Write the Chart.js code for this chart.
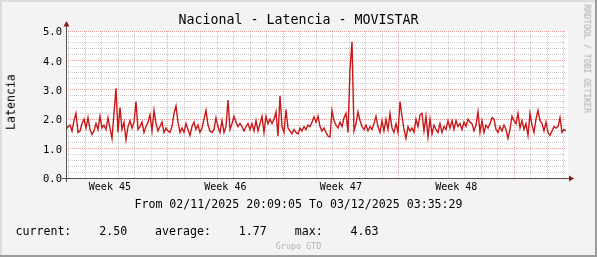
<!DOCTYPE html>
<html>
<head>
<meta charset="utf-8">
<script src="https://cdn.jsdelivr.net/npm/chart.js@4.4.1/dist/chart.umd.min.js"></script>
<style>
  body { margin: 0; background: #fff; }
  #wrap { position: relative; width: 597px; height: 257px; overflow: hidden; font-family: "DejaVu Sans Mono", monospace; }
  canvas { position: absolute; left: 0; top: 0; }
  .t { position: absolute; white-space: pre; line-height: 1; color: #000; }
</style>
</head>
<body>
<div id="wrap">
  <canvas id="grafico" width="597" height="257"></canvas>
  <div class="t" id="titulo" style="left:0;width:597px;text-align:center;top:12.7px;font-size:13.3px"></div>
  <div class="t" id="ylabel" style="left:0;top:0;font-size:11.6px;transform-origin:0 0;transform:translate(5.7px,130px) rotate(-90deg)"></div>
  <div class="t" id="rango" style="left:0;width:597px;text-align:center;top:198.7px;font-size:11.6px"></div>
  <div class="t" id="leyenda" style="left:15.5px;top:226.2px;font-size:11.6px"></div>
  <div class="t" id="marca" style="left:0;width:597px;text-align:center;top:242.3px;font-size:8.4px;color:#b4b4b4"></div>
  <div class="t" id="rrd" style="left:0;top:0;font-size:8.2px;color:#aaa;transform-origin:0 0;transform:translate(591.2px,4.5px) rotate(90deg)"></div>
</div>
<script>
// textos
const TITULO = "Nacional - Latencia - MOVISTAR";
const EJE_Y = "Latencia";
const DESDE = "02/11/2025 20:09:05";
const HASTA = "03/12/2025 03:35:29";
const ACTUAL = "2.50", PROMEDIO = "1.77", MAXIMO = "4.63";

// tiempo, en horas desde el inicio
const SPAN_H = 727.44;
const PRIMERA_MEDIANOCHE_H = 3.8486; // 03/11 00:00
const SEMANAS = ["Week 45", "Week 46", "Week 47", "Week 48"];

// latencia, un valor cada ~2.9 h
const latencia = [
  1.65, 1.75, 1.8, 1.6, 1.95, 2.2, 1.55, 1.6, 1.85, 2.0, 1.7, 2.05, 1.65, 1.48, 1.6, 1.85, 1.65, 2.1, 1.7, 1.8,
  1.65, 2.05, 1.7, 1.35, 2.2, 3.05, 1.55, 2.4, 1.65, 1.9, 1.3, 1.75, 1.95, 1.7, 1.9, 2.6, 1.65, 1.75, 1.9, 1.55,
  1.75, 1.9, 2.15, 1.6, 2.3, 1.85, 1.6, 1.75, 1.9, 1.55, 1.7, 1.6,
  1.55, 1.75, 2.2, 2.45, 1.9, 1.55, 1.7, 1.55, 1.85, 1.65, 1.45, 1.75, 1.9, 1.65, 1.8, 1.55, 1.7, 2.0, 2.3, 1.8,
  1.6, 1.55, 1.65, 2.05, 1.75, 1.55, 1.95, 1.55, 1.75, 2.65, 1.65, 1.85, 2.1, 1.9, 1.75, 1.85, 1.75, 1.6, 1.75, 1.85,
  1.65, 1.85, 1.6, 1.95, 1.6, 1.85, 2.1, 1.55, 2.1, 1.85,
  2.0, 1.85, 2.0, 2.25, 1.42, 2.8, 1.75, 1.55, 2.33, 1.7, 1.6, 1.5, 1.65, 1.55, 1.5, 1.7, 1.6, 1.75, 1.65, 1.8,
  1.75, 1.9, 2.08, 1.9, 2.1, 1.75, 1.6, 1.7, 1.55, 1.42, 1.4, 2.3, 1.95, 1.8, 1.7, 1.9, 1.75, 2.05, 2.2, 1.55,
  3.7, 4.63, 1.6, 1.85, 2.25, 1.95, 1.75, 1.65, 1.8, 1.6,
  1.75, 1.65, 1.85, 2.1, 1.75, 1.55, 1.95, 1.6, 2.0, 1.65, 2.2, 1.7, 1.55, 1.85, 1.55, 2.6, 2.1, 1.65, 1.35, 1.75,
  1.6, 1.7, 1.55, 2.0, 1.75, 2.15, 2.2, 1.6, 2.1, 1.4, 2.0, 1.5, 1.8, 1.65, 1.55, 1.85, 1.55, 1.75, 1.65, 1.95,
  1.7, 1.95, 1.65, 1.95, 1.75, 1.85, 1.65, 1.9, 1.75, 2.0,
  1.9, 1.85, 1.6, 1.8, 2.25, 1.55, 1.95, 1.55, 1.8, 1.7, 1.85, 2.05, 2.0, 1.65, 1.55, 1.75, 1.6, 1.8, 1.65, 1.35,
  1.65, 2.1, 1.95, 1.85, 2.2, 1.7, 1.95, 1.65, 1.85, 1.45, 2.2, 1.8, 1.55, 2.0, 2.3, 1.95, 1.85, 1.6, 1.9, 1.55,
  1.45, 1.6, 1.75, 1.7, 1.75, 2.05, 1.55, 1.65, 1.6
];

document.getElementById("titulo").textContent = TITULO;
document.getElementById("ylabel").textContent = EJE_Y;
document.getElementById("rango").textContent = "From " + DESDE + " To " + HASTA;
document.getElementById("leyenda").textContent =
  "current:    " + ACTUAL + "    average:    " + PROMEDIO + "    max:    " + MAXIMO;
document.getElementById("marca").textContent = "Grupo GTD";
document.getElementById("rrd").textContent = "RRDTOOL / TOBI OETIKER";

const paso = SPAN_H / (latencia.length - 1);
const puntos = latencia.map((v, i) => ({ x: i * paso, y: v }));

// lineas de dia, domingos en rojo
const dias = [];
for (let h = PRIMERA_MEDIANOCHE_H; h < SPAN_H; h += 24) dias.push(h);
const esDomingo = (h) => Math.round((h - PRIMERA_MEDIANOCHE_H) / 24) % 7 === 6;
const posSemanas = SEMANAS.map((_, j) => PRIMERA_MEDIANOCHE_H + 60 + 168 * j);
const cerca = (a, b) => Math.abs(a - b) < 1e-6;

const ROJO_GRID = "rgba(232,130,130,0.75)";
const GRIS_GRID = "rgba(180,180,180,0.7)";

const fondo = {
  id: "fondo",
  beforeDraw(chart) {
    const { ctx, chartArea: a } = chart;
    ctx.save();
    ctx.fillStyle = "#f3f3f3";
    ctx.fillRect(0, 0, 597, 257);
    ctx.fillStyle = "#dcdcdc";
    ctx.fillRect(0, 0, 597, 2);
    ctx.fillRect(0, 0, 2, 257);
    ctx.fillStyle = "#9c9c9c";
    ctx.fillRect(0, 255, 597, 2);
    ctx.fillRect(595, 0, 2, 257);
    ctx.fillStyle = "#fff";
    ctx.fillRect(a.left, a.top, a.right - a.left + 2, a.bottom - a.top + 1);
    ctx.restore();
  },
  afterDatasetsDraw(chart) {
    const { ctx, chartArea: a } = chart;
    const x0 = a.left + 0.5, y0 = a.bottom + 0.5;
    ctx.save();
    ctx.strokeStyle = "#5a5050";
    ctx.lineWidth = 1;
    ctx.beginPath();
    ctx.moveTo(a.left - 4, y0);
    ctx.lineTo(a.right + 3, y0);
    ctx.moveTo(x0, a.bottom + 4);
    ctx.lineTo(x0, a.top - 5);
    ctx.stroke();
    ctx.fillStyle = "#8b1a1a";
    ctx.beginPath();
    ctx.moveTo(x0, a.top - 10);
    ctx.lineTo(x0 - 3, a.top - 4.5);
    ctx.lineTo(x0 + 3, a.top - 4.5);
    ctx.closePath();
    ctx.fill();
    ctx.beginPath();
    ctx.moveTo(a.right + 8, y0);
    ctx.lineTo(a.right + 3, y0 - 3);
    ctx.lineTo(a.right + 3, y0 + 3);
    ctx.closePath();
    ctx.fill();
    ctx.restore();
  },
};

new Chart(document.getElementById("grafico"), {
  type: "line",
  data: {
    datasets: [{
      label: "Latencia",
      data: puntos,
      borderColor: "#c81818",
      borderWidth: 1.4,
      pointRadius: 0,
      tension: 0,
      fill: false,
    }],
  },
  options: {
    animation: false,
    responsive: false,
    devicePixelRatio: 1,
    layout: { padding: { top: 31, right: 31, left: 0, bottom: 0 } },
    plugins: { legend: { display: false }, tooltip: { enabled: false } },
    scales: {
      x: {
        type: "linear",
        min: 0,
        max: SPAN_H,
        afterFit: (s) => { s.height = 79; },
        afterBuildTicks: (s) => {
          s.ticks = dias.concat(posSemanas).sort((a, b) => a - b).map((v) => ({ value: v }));
        },
        ticks: {
          autoSkip: false,
          maxRotation: 0,
          padding: 3,
          color: "#000",
          font: { family: "DejaVu Sans Mono", size: 10 },
          callback: (v) => {
            const j = posSemanas.findIndex((p) => cerca(p, v));
            return j >= 0 ? SEMANAS[j] : "";
          },
        },
        grid: {
          drawTicks: false,
          color: (c) => {
            const v = c.tick ? c.tick.value : 0;
            if (posSemanas.some((p) => cerca(p, v))) return "rgba(0,0,0,0)";
            return esDomingo(v) ? ROJO_GRID : GRIS_GRID;
          },
        },
        border: { display: false, dash: [1, 1] },
      },
      y: {
        min: 0,
        max: 5,
        afterFit: (s) => { s.width = 66; },
        ticks: {
          stepSize: 0.2,
          autoSkip: false,
          padding: 4,
          labelOffset: 1.5,
          color: "#000",
          font: { family: "DejaVu Sans Mono", size: 10.5 },
          callback: (v) => (cerca(v, Math.round(v)) ? Number(v).toFixed(1) : ""),
        },
        grid: {
          drawTicks: false,
          color: (c) => {
            const v = c.tick ? c.tick.value : 0;
            return cerca(v, Math.round(v)) ? ROJO_GRID : GRIS_GRID;
          },
        },
        border: { display: false, dash: [1, 1] },
      },
    },
  },
  plugins: [fondo],
});
</script>
</body>
</html>
